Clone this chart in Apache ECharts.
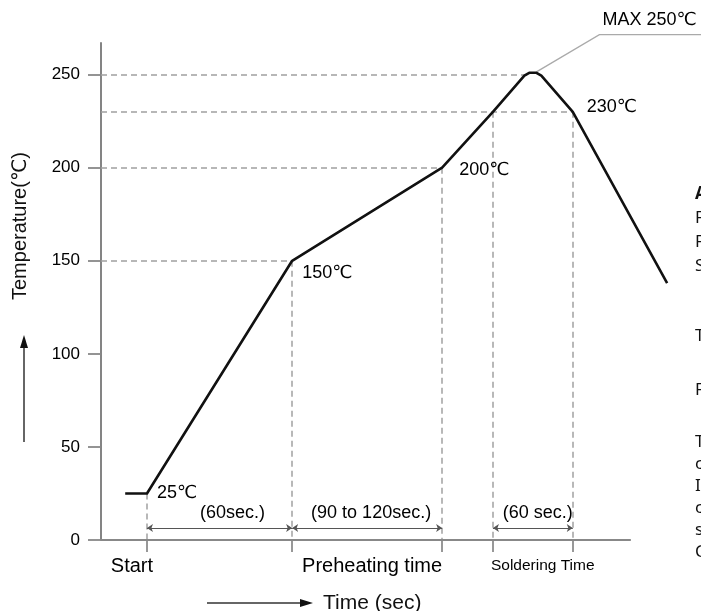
<!DOCTYPE html>
<html><head><meta charset="utf-8">
<script src="https://cdn.jsdelivr.net/npm/echarts@6/dist/echarts.min.js"></script>
<style>html,body{margin:0;padding:0;background:#fff}#c{width:701px;height:611px}</style>
</head><body><div id="c"></div>
<script>
// ---- data ----
const profileX = [-9, 0, 60, 122, 143, 156, 158, 161, 163, 176, 215];
const profileY = [25, 25, 150, 200, 230, 249.5, 251, 251, 249.5, 230, 138];

const yTicks = [0, 50, 100, 150, 200, 250];
const xTickValues = [0, 60, 122, 143, 176];

const hGuideLevels = [250, 230, 200, 150];
const hGuideEnds   = [157, 176, 122, 60];
const vGuideX   = [0, 60, 122, 143, 176];
const vGuideTop = [25, 150, 200, 230, 230];

const spanStart = [0, 60, 143];
const spanEnd   = [60, 122, 176];
const spanLabels = ['(60sec.)', '(90 to 120sec.)', '(60 sec.)'];
const spanLevel = 6.5;

const pointLabels = ['25℃', '150℃', '200℃', '230℃'];
const pointLabelX = [0, 60, 122, 176];
const pointLabelY = [25, 150, 200, 230];

const phaseLabels = ['Start', 'Preheating time', 'Soldering Time'];
const phaseX = [0, 122, 143];

const maxLabel = 'MAX 250℃';
const leaderPath = [[229, 271.5], [187, 271.5], [161, 251.5]];

const sideLetters = ['A', 'F', 'F', 'S', 'T', 'F', 'T', 'c', 'I', 'c', 's', 'C'];
const sideLetterRows = [194, 218, 242, 266, 336, 390, 442, 464, 486, 508, 530, 552];

// ---- chart ----
const FONT = 'Liberation Sans, DejaVu Sans, Arial, sans-serif';
const chart = echarts.init(document.getElementById('c'), null, {renderer: 'canvas'});

const guideData = [];
hGuideLevels.forEach((v, i) => guideData.push({coords: [[-19, v], [hGuideEnds[i], v]]}));
vGuideX.forEach((x, i) => guideData.push({coords: [[x, vGuideTop[i]], [x, 0]]}));

const spanData = spanStart.map((s, i) => ({coords: [[s, spanLevel], [spanEnd[i], spanLevel]]}));

const spanOffsets = [[13, -15], [4, -15], [5, -15]];
const pointOffsets = [[10, 0], [10, 12], [17, 2], [14, -5]];

const labelData = [];
spanLabels.forEach((t, i) => labelData.push({
  value: [(spanStart[i] + spanEnd[i]) / 2, spanLevel], name: t,
  label: {position: 'inside', offset: spanOffsets[i], fontSize: 18}
}));
pointLabels.forEach((t, i) => labelData.push({
  value: [pointLabelX[i], pointLabelY[i]], name: t,
  label: {position: 'right', distance: 0, offset: pointOffsets[i], fontSize: 18}
}));
labelData.push({value: [phaseX[0], 0], name: phaseLabels[0],
  label: {position: 'inside', offset: [-15, 26], fontSize: 20}});
labelData.push({value: [phaseX[1], 0], name: phaseLabels[1],
  label: {position: 'left', distance: 0, offset: [0, 26], fontSize: 20}});
labelData.push({value: [phaseX[2], 0], name: phaseLabels[2],
  label: {position: 'right', distance: 0, offset: [-2, 26], fontSize: 15.5}});
labelData.push({value: leaderPath[1], name: maxLabel,
  label: {position: 'right', distance: 0, offset: [3, -15], fontSize: 18}});

const graphics = [
  {type: 'text', x: 20, y: 226, rotation: Math.PI / 2,
   style: {text: 'Temperature(℃)', font: '20px ' + FONT, fill: '#111', align: 'center', verticalAlign: 'middle'}},
  {type: 'line', shape: {x1: 24, y1: 442, x2: 24, y2: 345}, style: {stroke: '#333', lineWidth: 1.5}},
  {type: 'polygon', shape: {points: [[24, 335], [20, 348], [28, 348]]}, style: {fill: '#111'}},
  {type: 'line', shape: {x1: 207, y1: 603, x2: 303, y2: 603}, style: {stroke: '#333', lineWidth: 1.5}},
  {type: 'polygon', shape: {points: [[313, 603], [300, 599], [300, 607]]}, style: {fill: '#111'}},
  {type: 'text', x: 323, y: 603,
   style: {text: 'Time (sec)', font: '21px ' + FONT, fill: '#111', align: 'left', verticalAlign: 'middle'}}
];
sideLetters.forEach((t, i) => graphics.push({
  type: 'text', x: 695, y: sideLetterRows[i],
  style: {text: t, font: (i === 0 ? 'bold ' : '') + '17px Noto Sans, sans-serif', fill: '#111',
          align: 'left', verticalAlign: 'middle'}
}));

chart.setOption({
  animation: false,
  backgroundColor: '#fff',
  grid: {left: 101, right: 0, top: 43, bottom: 71},
  xAxis: {
    type: 'value', min: -19, max: 229,
    axisLine: {show: false, onZero: false},
    splitLine: {show: false},
    axisTick: {show: true, length: 12, customValues: xTickValues, lineStyle: {color: '#777', width: 1.5}},
    axisLabel: {show: false}
  },
  yAxis: {
    type: 'value', min: 0, max: 267, interval: 50,
    axisLine: {show: true, onZero: false, lineStyle: {color: '#777', width: 1.8}},
    axisTick: {show: true, length: 13, customValues: yTicks, lineStyle: {color: '#888', width: 1.8}},
    axisLabel: {margin: 21, fontSize: 17, color: '#000', fontFamily: FONT, customValues: yTicks},
    splitLine: {show: false}
  },
  series: [
    {type: 'lines', coordinateSystem: 'cartesian2d', data: guideData, silent: true,
     lineStyle: {color: '#a0a0a0', width: 1.5, type: [6, 4], opacity: 1}, z: 1},
    {type: 'lines', coordinateSystem: 'cartesian2d', silent: true,
     data: [{coords: [[-19, 0], [200, 0]]}],
     lineStyle: {color: '#888', width: 1.8, opacity: 1}, z: 2},
    {type: 'lines', coordinateSystem: 'cartesian2d', data: spanData, silent: true,
     symbol: ['arrow', 'arrow'], symbolSize: 6,
     lineStyle: {color: '#555', width: 1, opacity: 1}, z: 3},
    {type: 'lines', coordinateSystem: 'cartesian2d', polyline: true, clip: false, silent: true,
     data: [{coords: leaderPath}], symbol: ['none', 'arrow'], symbolSize: 8,
     lineStyle: {color: '#aaa', width: 1.3, opacity: 1}, z: 3},
    {type: 'line', data: profileX.map((x, i) => [x, profileY[i]]), symbol: 'none', silent: true,
     lineStyle: {color: '#111', width: 2.6, join: 'round'}, z: 5},
    {type: 'scatter', data: labelData, symbolSize: 0, clip: false, silent: true,
     itemStyle: {color: '#000', opacity: 1},
     label: {show: true, formatter: p => p.name, color: '#000', opacity: 1, fontFamily: FONT}, z: 6}
  ],
  graphic: graphics
});
</script></body></html>
